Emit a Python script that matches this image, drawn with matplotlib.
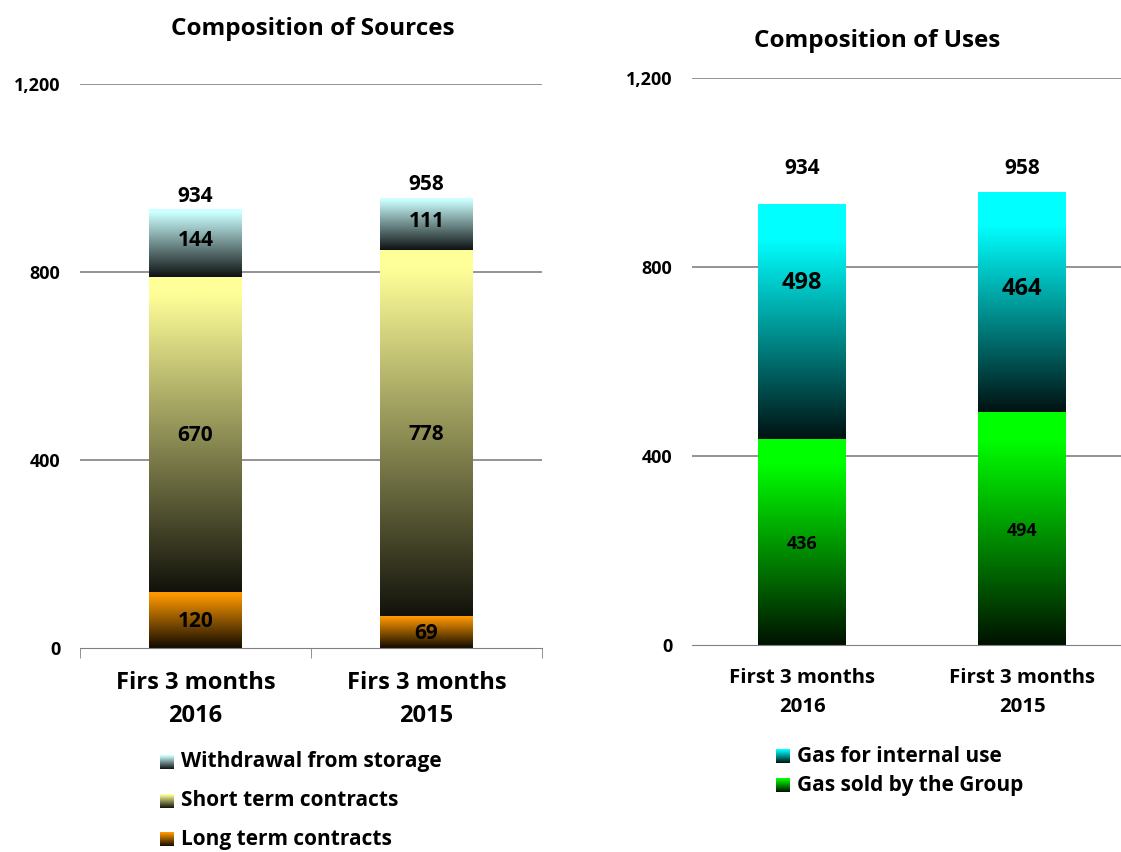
import numpy as np
import matplotlib.pyplot as plt
from matplotlib.colors import LinearSegmentedColormap, to_rgb

plt.rcParams['font.family'] = ['Open Sans', 'DejaVu Sans']
plt.rcParams['font.weight'] = 'bold'

# sources (left panel)
src_periods = ['Firs 3 months\n2016', 'Firs 3 months\n2015']
long_term = [120, 69]
short_term = [670, 778]
withdrawal = [144, 111]
src_totals = [934, 958]
src_names = ['Withdrawal from storage', 'Short term contracts', 'Long term contracts']

# uses (right panel)
use_periods = ['First 3 months\n2016', 'First 3 months\n2015']
gas_sold = [436, 494]
gas_internal = [498, 464]
use_totals = [934, 958]
use_names = ['Gas for internal use', 'Gas sold by the Group']

C_LONG = '#ff9900'
C_SHORT = '#ffff99'
C_WITH = '#ccffff'
C_INT = '#00ffff'
C_SOLD = '#00ff00'


def fade_cmap(color, full=0.95):
    r, g, b = to_rgb(color)
    dark = (r * 0.07, g * 0.07, b * 0.07)
    return LinearSegmentedColormap.from_list('f', [(0, dark), (full, (r, g, b)), (1, (r, g, b))])


grad = np.linspace(0, 1, 256).reshape(-1, 1)


def gradient_bars(ax, x, heights, bottoms, color, width, full=0.95):
    bars = ax.bar(x, heights, width, bottom=bottoms, color='none', edgecolor='none', zorder=3)
    for rect in bars:
        im = ax.imshow(grad, cmap=fade_cmap(color, full), origin='lower', aspect='auto', zorder=2,
                       extent=[rect.get_x(), rect.get_x() + rect.get_width(),
                               rect.get_y(), rect.get_y() + rect.get_height()])
        im.set_clip_path(rect)
    return bars


def style_axes(ax, xmax):
    ax.set_ylim(0, 1200)
    ax.set_xlim(-0.5, xmax)
    ax.set_yticks([0, 400, 800, 1200])
    ax.set_yticklabels(['0', '400', '800', '1,200'], fontsize=13, fontweight='bold')
    ax.tick_params(axis='y', length=0, pad=14)
    for s in ['top', 'right', 'left']:
        ax.spines[s].set_visible(False)
    ax.spines['bottom'].set_color('#808080')
    ax.set_xticks([])
    for y in [400, 800, 1200]:
        ax.axhline(y, color='#777777', lw=1.1, zorder=1)


fig = plt.figure(figsize=(11.21, 8.52), dpi=100)

# ---- left: composition of sources
ax1 = fig.add_axes([80 / 1121, 204 / 852, 462 / 1121, 564 / 852])
x = np.arange(2)
w = 0.4
lt = np.array(long_term)
st = np.array(short_term)
wd = np.array(withdrawal)
gradient_bars(ax1, x, lt, 0, C_LONG, w)
gradient_bars(ax1, x, st, lt, C_SHORT, w)
gradient_bars(ax1, x, wd, lt + st, C_WITH, w)
style_axes(ax1, 1.5)
ax1.set_xticks([-0.5, 0.5, 1.5], minor=True)
ax1.tick_params(axis='x', which='minor', length=7, color='#808080', direction='out')
for i in range(2):
    ax1.text(x[i], lt[i] / 2 - 3, str(lt[i]), ha='center', va='center', fontsize=15, fontweight='bold')
    ax1.text(x[i], lt[i] + st[i] / 2 - 3, str(st[i]), ha='center', va='center', fontsize=15, fontweight='bold')
    ax1.text(x[i], lt[i] + st[i] + wd[i] / 2 + 5, str(wd[i]), ha='center', va='center', fontsize=15, fontweight='bold')
    ax1.text(x[i], src_totals[i] + 5, str(src_totals[i]), ha='center', va='bottom', fontsize=15, fontweight='bold')
    first, second = src_periods[i].split('\n')
    ax1.text(x[i], -75, first, ha='center', va='center', fontsize=17, fontweight='bold')
    ax1.text(x[i], -145, second, ha='center', va='center', fontsize=17, fontweight='bold')
fig.text(313 / 1121, 1 - 29 / 852, 'Composition of Sources', ha='center', va='center', fontsize=17.5, fontweight='bold')

# ---- right: composition of uses
ax2 = fig.add_axes([692 / 1121, 207 / 852, 429 / 1121, 567 / 852])
gs = np.array(gas_sold)
gi = np.array(gas_internal)
gradient_bars(ax2, x, gs, 0, C_SOLD, w, 0.88)
gradient_bars(ax2, x, gi, gs, C_INT, w, 0.85)
style_axes(ax2, 1.45)
int_label_y = [766, 753]
total_label_y = max(use_totals) + 50
for i in range(2):
    ax2.text(x[i], gs[i] / 2 - 5, str(gs[i]), ha='center', va='center', fontsize=13, fontweight='bold')
    ax2.text(x[i], int_label_y[i], str(gi[i]), ha='center', va='center', fontsize=17, fontweight='bold')
    ax2.text(x[i], total_label_y, str(use_totals[i]), ha='center', va='center', fontsize=15, fontweight='bold')
    first, second = use_periods[i].split('\n')
    ax2.text(x[i], -70, first, ha='center', va='center', fontsize=14.7, fontweight='bold')
    ax2.text(x[i], -131, second, ha='center', va='center', fontsize=14.7, fontweight='bold')
fig.text(877 / 1121, 1 - 41 / 852, 'Composition of Uses', ha='center', va='center', fontsize=17.5, fontweight='bold')


# legends with gradient swatches
def legend_item(px, py, color, label, size, fs):
    sw = fig.add_axes([px / 1121, 1 - (py + size / 2) / 852, size / 1121, size / 852])
    sw.imshow(grad, cmap=fade_cmap(color), origin='lower', aspect='auto')
    sw.axis('off')
    fig.text((px + size + 7) / 1121, 1 - py / 852, label, ha='left', va='center', fontsize=fs, fontweight='bold')


for (py, color, name) in zip([762, 801, 839], [C_WITH, C_SHORT, C_LONG], src_names):
    legend_item(160, py, color, name, 14, 15)
for (py, color, name) in zip([756, 785], [C_INT, C_SOLD], use_names):
    legend_item(776, py, color, name, 14, 15)

fig.savefig('out.png', dpi=100)
